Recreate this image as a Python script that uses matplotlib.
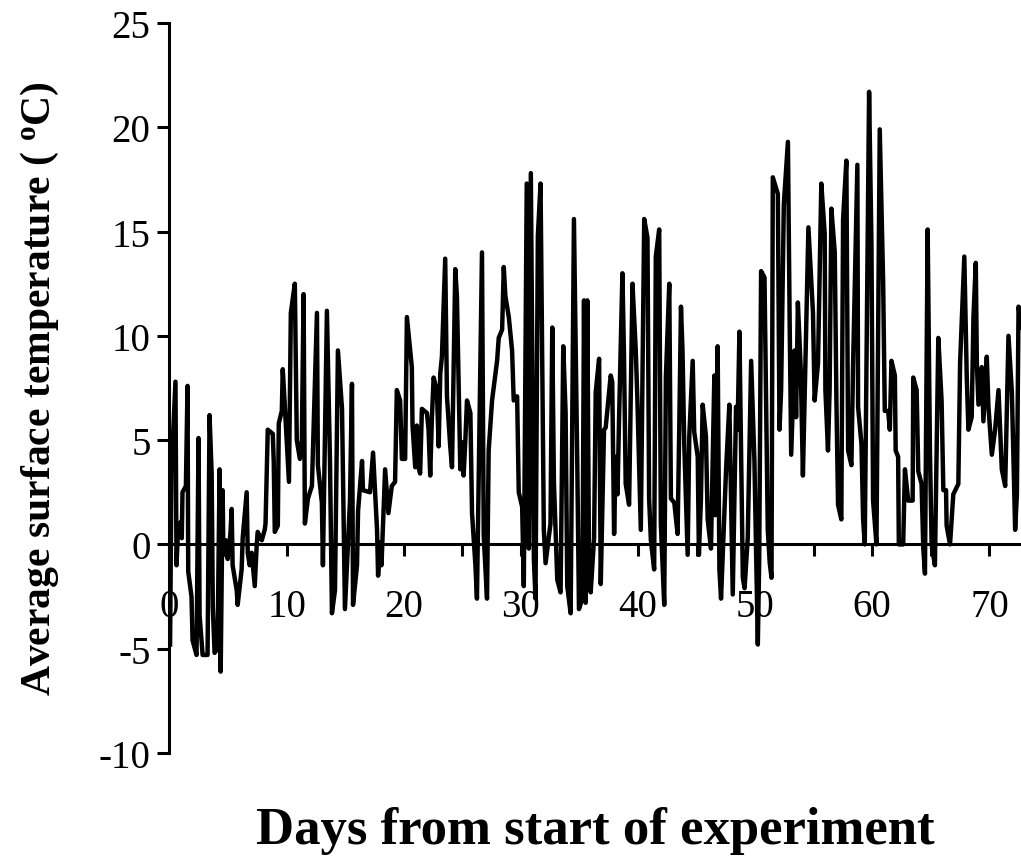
import matplotlib
matplotlib.use('Agg')
import matplotlib.pyplot as plt
from matplotlib.ticker import MultipleLocator

# surface temperature readings, split into blocks of the experiment
days_1 = [0.05, 0.17, 0.51, 0.60, 0.75, 0.86, 1.00, 1.05, 1.11, 1.40, 1.54, 1.60, 1.88, 1.97, 2.31,
          2.48, 2.57, 2.83, 3.25, 3.42, 3.60, 3.70, 3.85, 4.10, 4.28, 4.37, 4.54, 4.60, 4.80, 4.97,
          5.20, 5.31, 5.39, 5.74, 5.82, 6.16, 6.25, 6.59, 6.68, 6.85, 7.02, 7.28, 7.45, 7.53, 7.88,
          8.13, 8.20, 8.39, 8.82, 8.90, 8.99, 9.25, 9.33, 9.59, 9.67, 9.85, 10.20, 10.36, 10.70, 10.87,
          11.13, 11.30, 11.45, 11.56, 11.82, 12.16, 12.59, 12.67, 13.01, 13.10, 13.44, 13.70, 13.87, 14.13, 14.38,
          14.73, 14.98, 15.41, 15.58, 15.67, 16.01, 16.10, 16.44, 16.52, 17.12, 17.38, 17.72, 17.81]
temps_1 = [-4.8, 3.5, 7.8, -1.0, 1.0, 0.5, 1.1, 0.3, 2.5, 2.8, 7.6, -1.3, -2.5, -4.6, -5.3,
           5.1, -3.4, -5.3, -5.3, 6.2, 3.4, -3.0, -5.2, -5.0, 3.6, -6.1, 2.6, -0.5, 0.2, -0.7,
           0.5, 1.7, -1.0, -2.2, -2.9, -1.2, 0.3, 2.5, -0.4, -1.0, -0.4, -2.0, 0.0, 0.6, 0.2,
           0.7, 1.0, 5.5, 5.3, 4.0, 0.6, 0.9, 5.8, 6.4, 8.4, 6.6, 3.0, 11.1, 12.5, 5.0,
           4.1, 5.0, 12.0, 1.0, 2.2, 2.8, 11.1, 3.8, 2.0, -1.0, 11.2, 4.1, -3.3, -2.2, 9.3,
           6.5, -3.1, 2.1, 7.7, -2.9, -1.0, 1.6, 4.0, 2.6, 2.5, 4.4, 0.7, -1.5]

days_2 = [17.98, 18.10, 18.41, 18.69, 18.98, 19.26, 19.41, 19.69, 19.84, 20.12, 20.27, 20.69, 20.75, 20.98, 21.12,
          21.26, 21.40, 21.55, 21.98, 22.12, 22.26, 22.40, 22.55, 22.83, 22.98, 23.12, 23.26, 23.54, 23.69, 23.97,
          24.12, 24.40, 24.54, 24.83, 24.97, 25.11, 25.26, 25.40, 25.69, 25.83, 26.12, 26.25, 26.54, 26.68, 26.83,
          27.11, 27.25, 27.54, 27.97, 28.11, 28.40, 28.54, 28.68, 28.97, 29.25, 29.39, 29.68, 29.82, 30.11, 30.25,
          30.50, 30.68, 30.85, 31.11, 31.25, 31.45, 31.68, 31.96, 32.11, 32.53, 32.68, 32.82, 33.11, 33.39, 33.62,
          33.82, 33.96, 34.25, 34.53, 34.82, 34.96, 35.25, 35.39, 35.53, 35.67, 35.82, 35.96, 36.25, 36.39, 36.68]
temps_2 = [0.1, -1.0, 3.6, 1.5, 2.8, 3.0, 7.4, 6.9, 4.1, 4.1, 10.9, 8.5, 5.7, 3.7, 5.7,
           3.7, 3.4, 6.5, 6.3, 5.5, 3.3, 6.0, 8.0, 7.4, 4.7, 8.2, 9.0, 13.7, 7.1, 4.7,
           3.7, 13.2, 11.9, 3.6, 4.9, 3.3, 5.0, 6.9, 6.3, 1.5, -1.0, -2.6, 8.5, 14.0, 0.4,
           -2.6, 4.5, 6.9, 8.8, 9.9, 10.3, 13.3, 11.9, 10.9, 9.3, 6.9, 7.1, 2.5, 1.8, -2.0,
           17.3, -0.2, 17.8, -0.7, -2.6, 14.8, 17.3, 0.7, -0.9, 1.0, 10.4, 3.0, -1.7, -2.3, 9.5,
           6.3, -2.0, -3.3, 15.6, 3.7, -3.1, -2.6, 11.7, -2.8, 11.7, -0.9, -2.3, 0.3, 7.3, 8.9]

days_3 = [36.82, 37.10, 37.24, 37.67, 37.80, 37.96, 38.10, 38.25, 38.39, 38.67, 38.80, 38.95, 39.24, 39.53, 39.81,
          39.95, 40.24, 40.53, 40.81, 40.95, 41.10, 41.38, 41.52, 41.81, 41.95, 42.24, 42.38, 42.67, 42.81, 43.10,
          43.38, 43.52, 43.67, 43.80, 43.95, 44.24, 44.38, 44.67, 44.80, 45.10, 45.20, 45.37, 45.52, 45.80, 45.95,
          46.23, 46.52, 46.60, 46.80, 46.95, 47.09, 47.52, 47.80, 48.09, 48.37, 48.50, 48.66, 48.95, 49.10, 49.37,
          49.66, 49.94, 50.23, 50.35, 50.51, 50.80, 51.08, 51.25, 51.40, 51.51, 51.94, 52.08, 52.22, 52.45, 52.80,
          52.95, 53.08, 53.37, 53.50, 53.65, 53.90, 54.08, 54.55, 54.94, 55.08, 55.37]
temps_3 = [-1.9, 5.5, 5.6, 8.1, 7.8, 0.5, 4.2, 2.4, 6.2, 13.0, 9.2, 2.9, 1.9, 12.5, 9.3,
           6.9, 0.7, 15.6, 14.7, 2.2, 0.2, -1.2, 13.8, 15.1, 1.0, -2.9, 8.0, 12.5, 2.2, 2.0,
           0.5, 5.5, 11.4, 9.3, 4.8, -0.5, 5.2, 8.8, 5.4, 4.2, -0.5, 2.1, 6.7, 5.2, 1.2,
           -0.2, 8.1, 1.4, 9.5, -1.2, -2.6, 3.6, 6.7, -2.4, 6.6, 5.5, 10.2, -1.6, -2.1, 0.3,
           8.8, 4.0, -4.8, -0.7, 13.1, 12.8, 0.7, -0.9, -1.6, 17.6, 16.8, 5.5, 7.4, 16.3, 19.3,
           10.6, 4.3, 9.3, 6.1, 11.6, 8.3, 3.3, 15.2, 11.1, 6.9, 8.7]

days_4 = [55.65, 55.94, 56.00, 56.22, 56.36, 56.51, 56.80, 56.94, 57.08, 57.36, 57.51, 57.79, 57.94, 58.22, 58.36,
          58.73, 58.79, 59.08, 59.22, 59.36, 59.73, 59.93, 60.07, 60.36, 60.64, 60.93, 61.07, 61.36, 61.50, 61.64,
          61.93, 62.00, 62.21, 62.27, 62.64, 62.79, 63.07, 63.45, 63.50, 63.79, 63.93, 64.21, 64.36, 64.50, 64.73,
          64.93, 65.07, 65.35, 65.64, 65.92, 66.07, 66.30, 66.35, 66.64, 66.92, 67.35, 67.50, 67.86, 68.07, 68.21,
          68.49, 68.64, 68.84, 68.93, 69.07, 69.35, 69.49, 69.78, 69.92, 70.21, 70.49, 70.78, 71.06, 71.35, 71.63,
          71.92, 72.20, 72.35, 72.49, 72.77]
temps_4 = [17.3, 14.9, 7.4, 4.5, 7.4, 16.1, 14.0, 6.9, 1.9, 1.2, 15.6, 18.4, 4.5, 3.8, 8.5,
           18.2, 6.6, 4.8, 1.2, 0.0, 21.7, 14.5, 2.1, 0.0, 19.9, 12.6, 6.4, 6.4, 5.5, 8.8,
           8.1, 4.5, 4.2, 0.0, 0.0, 3.6, 2.1, 2.1, 8.0, 7.4, 3.5, 2.9, -0.2, -1.4, 15.1,
           4.3, 0.0, -1.0, 9.9, 6.9, 2.6, 2.6, 0.9, 0.0, 2.4, 2.9, 8.7, 13.8, 8.0, 5.5,
           6.1, 10.9, 13.5, 8.7, 6.7, 8.5, 5.9, 9.0, 6.6, 4.3, 5.5, 7.4, 3.6, 2.8, 10.0,
           7.3, 0.7, 2.4, 11.4, 10.4]

days = days_1 + days_2 + days_3 + days_4
temps = temps_1 + temps_2 + temps_3 + temps_4

plt.rcParams['font.family'] = 'Liberation Serif'
plt.rcParams['axes.unicode_minus'] = False
plt.rcParams['mathtext.fontset'] = 'custom'
plt.rcParams['mathtext.rm'] = 'Liberation Serif:bold'
plt.rcParams['mathtext.bf'] = 'Liberation Serif:bold'
plt.rcParams['mathtext.it'] = 'Liberation Serif:bold:italic'

fig = plt.figure(figsize=(10.21, 8.62), dpi=100)
ax = fig.add_axes([0.166, 0.1253, 0.834, 0.8469])

ax.plot(days, temps, color='black', lw=3.2, solid_joinstyle='round')

ax.set_xlim(0, 72.7)
ax.set_ylim(-10, 25)

# x axis crosses at zero degrees
ax.spines['bottom'].set_position(('data', 0))
ax.spines['top'].set_visible(False)
ax.spines['right'].set_visible(False)
for s in ['bottom', 'left']:
    ax.spines[s].set_linewidth(2.2)

ax.xaxis.set_major_locator(MultipleLocator(10))
ax.xaxis.set_minor_locator(MultipleLocator(5))
ax.yaxis.set_major_locator(MultipleLocator(5))
ax.tick_params(axis='x', which='both', direction='out', length=8.6, width=2.2,
               labelsize=28, pad=23)
ax.tick_params(axis='y', direction='out', length=8.6, width=2.2, labelsize=28, pad=5)

ax.set_xlabel('Days from start of experiment', fontsize=38, fontweight='bold')
ax.xaxis.set_label_coords(0.5, -0.072)
ax.set_ylabel(r'Average surface temperature ( $^{\mathrm{o}}$C)', fontsize=30, fontweight='bold')
ax.yaxis.set_label_coords(-0.127, 0.5)

fig.savefig('out.png', dpi=100)
